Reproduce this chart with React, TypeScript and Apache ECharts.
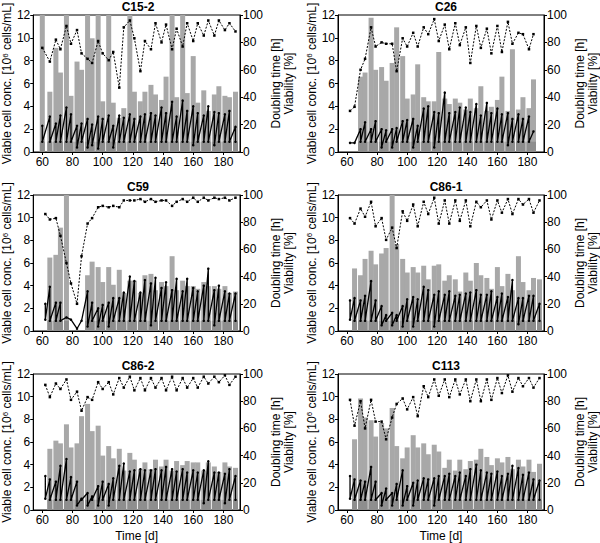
import React, { useEffect, useRef } from "react";
import * as echarts from "echarts";

// Passage days (time, d)
const DAYS = [62, 65, 69, 72, 76, 79, 83, 86, 90, 93, 97, 100, 104, 107, 111, 114, 118, 121, 125, 128, 132, 135, 139, 142, 146, 149, 153, 156, 160, 163, 167, 170, 174, 177, 181, 184, 188];
const DAYS_C15_2 = [60, 65, 69, 72, 76, 79, 83, 86, 90, 93, 97, 100, 104, 107, 111, 114, 118, 121, 125, 128, 132, 135, 139, 142, 146, 149, 153, 156, 160, 163, 167, 170, 174, 177, 181, 184, 188];

const X_TICKS = [60, 80, 100, 120, 140, 160, 180];
const LEFT_TICKS = [0, 2, 4, 6, 8, 10, 12];
const RIGHT_TICKS = [0, 20, 40, 60, 80, 100];

// Seeding density band level (10^6 cells/mL)
const SEED_LEVEL = 0.9;

// ---- C15-2 ----
const C15_2_PEAK = [2.3, 3.1, 2.5, 3.2, 3.9, 3.3, 2.3, 2.5, 2.9, 2.4, 3.1, 2.9, 3.2, 2.3, 3.2, 3.0, 3.3, 2.9, 3.1, 3.3, 3.4, 3.2, 3.9, 3.4, 4.4, 3.1, 4.5, 3.6, 4.0, 3.4, 3.2, 4.0, 3.5, 3.4, 3.3, 3.6, 2.2];
const C15_2_SPLIT = [0.9, 0.9, 0.9, 0.9, 0.9, 0.9, 0.4, 0.9, 0.4, 0.6, 0.3, 0.9, 0.9, 0.4, 0.9, 0.9, 0.9, 0.9, 0.9, 0.9, 0.9, 0.9, 0.9, 0.9, 0.9, 0.9, 0.9, 0.9, 0.6, 0.9, 0.9, 0.9, 0.6, 0.9, 0.9, 0.9, 0.9];
const C15_2_DT = [120, 44, 76, 58, 120, 41, 66, 60, 120, 83, 120, 37, 120, 36, 25, 32, 120, 44, 37, 44, 49, 42, 38, 55, 120, 40, 120, 43, 70, 36, 45, 30, 42, 48, 41, 40, 44];
const C15_2_VIA = [76, 66, 82, 75, 92, 79, 89, 72, 68, 65, 81, 72, 67, 73, 47, 91, 96, 83, 59, 81, 75, 94, 80, 93, 75, 90, 77, 94, 81, 94, 85, 96, 85, 96, 89, 94, 88];

// ---- C26 ----
const C26_PEAK = [0.8, 0.8, 2.0, 2.6, 2.0, 2.7, 2.0, 1.9, 2.0, 2.1, 2.7, 2.8, 2.9, 2.3, 3.8, 4.0, 3.5, 3.4, 5.2, 3.4, 3.5, 3.9, 3.9, 3.5, 4.2, 3.2, 4.3, 3.4, 3.8, 3.3, 3.4, 2.9, 3.3, 2.9, 3.1, 1.8, null];
const C26_SPLIT = [0.8, 0.8, 0.9, 0.9, 0.9, 0.9, 0.4, 0.9, 0.4, 0.9, 0.9, 0.9, 0.4, 0.9, 0.9, 0.9, 0.4, 0.9, 0.9, 0.9, 0.9, 0.9, 0.9, 0.9, 0.9, 0.9, 0.9, 0.9, 0.9, 0.9, 0.6, 0.9, 0.9, 0.9, 0.9, null, null];
const C26_DT = [null, null, 55, 58, 98, 60, 62, 52, 65, 91, 70, 39, 42, 64, 40, 37, 37, 73, 39, 35, 39, 36, 31, 39, 32, 48, 30, 33, 38, 55, 30, 75, 31, 40, 32, 53, null];
const C26_VIA = [30, 33, 60, 68, 91, 77, 80, 79, 79, 59, 83, 77, 87, 77, 91, 86, 97, 81, 93, 75, 94, 78, 91, 65, 92, 76, 90, 72, 92, 73, 95, 79, 87, 86, 75, 86, null];

// ---- C59 ----
const C59_PEAK = [2.4, 3.9, 2.5, 2.5, 1.2, 1.0, 0.2, 0.9, 3.5, 2.5, 2.0, 2.3, 2.5, 2.9, 2.9, 3.4, 4.8, 4.4, 3.4, 4.5, 4.2, 4.7, 3.8, 4.3, 3.6, 4.6, 3.5, 4.6, 3.8, 3.5, 4.0, 5.5, 3.6, 4.0, 3.5, 3.3, 3.3];
const C59_SPLIT = [1.0, 0.9, 0.9, 0.9, 1.2, 1.0, 0.2, 0.9, 0.4, 0.9, 0.4, 0.9, 0.4, 0.9, 0.9, 0.9, 0.9, 0.9, 0.9, 0.9, 0.5, 0.9, 0.9, 0.9, 0.9, 0.9, 0.9, 0.9, 0.9, 0.9, 0.9, 0.9, 0.5, 0.9, 0.9, 0.9, 0.9];
const C59_DT = [null, 54, 56, 76, 120, null, null, null, 41, 51, 47, 36, 47, 34, 45, 28, 37, 37, 28, 41, 42, 30, 36, 33, 55, 30, 37, 33, 33, 31, 36, 33, 33, 31, 33, 28, 29];
const C59_VIA = [86, 82, 83, 70, 50, 35, 20, 55, 79, 83, 91, 92, 91, 92, 91, 96, 96, 96, 97, 95, 97, 95, 96, 96, 92, 95, 97, 95, 98, 95, 98, 96, 98, 97, 98, 96, 98];

// ---- C86-1 ----
const C86_1_PEAK = [2.7, 2.9, 2.7, 3.1, 4.4, 2.7, 2.2, 1.4, 1.6, 1.4, 2.2, 2.8, 3.0, 2.8, 3.9, 3.6, 3.2, 3.5, 3.2, 3.5, 3.1, 3.2, 3.3, 3.4, 3.6, 3.2, 3.2, 3.5, 3.0, 3.3, 3.0, 4.5, 2.9, 2.9, 3.1, 3.1, 2.4];
const C86_1_SPLIT = [1.0, 0.9, 0.9, 0.9, 0.9, 0.9, 0.5, 0.9, 0.5, 0.9, 0.4, 0.9, 0.4, 0.9, 0.9, 0.9, 0.4, 0.9, 0.9, 0.9, 0.9, 0.9, 0.9, 0.9, 0.9, 0.9, 0.9, 0.9, 0.9, 0.9, 0.9, 0.9, 0.6, 0.9, 0.9, 0.9, 0.9];
const C86_1_DT = [null, 46, 41, 53, 59, 49, 57, 61, 120, 64, 53, 43, 47, 43, 48, 38, 48, 49, 37, 41, 38, 29, 43, 37, 50, 41, 39, 31, 47, 33, 42, 30, 55, 36, 30, 39, 38];
const C86_1_VIA = [83, 79, 90, 84, 95, 77, 83, 67, 76, 61, 88, 81, 93, 77, 95, 86, 98, 79, 96, 79, 96, 81, 96, 77, 95, 91, 96, 82, 96, 87, 97, 86, 97, 93, 97, 87, 96];

// ---- C86-2 ----
const C86_2_PEAK = [3.0, 2.7, 2.5, 3.9, 4.5, 2.9, 2.5, 1.0, 1.5, 1.2, 2.1, 2.5, 2.3, 2.8, 3.9, 4.1, 3.4, 3.5, 3.6, 3.5, 3.5, 3.6, 3.5, 3.8, 3.6, 3.4, 3.6, 3.3, 3.5, 3.3, 3.5, 4.3, 3.3, 3.3, 3.2, 3.6, 3.0];
const C86_2_SPLIT = [1.0, 0.9, 0.9, 0.9, 0.9, 0.9, 0.4, 0.9, 0.4, 0.9, 0.4, 0.9, 0.4, 0.9, 0.9, 0.9, 0.9, 0.9, 0.9, 0.9, 0.9, 0.9, 0.9, 0.9, 0.9, 0.9, 0.9, 0.9, 0.9, 0.9, 0.6, 0.9, 0.9, 0.9, 0.6, 0.9, 0.9];
const C86_2_DT = [null, 45, 51, 49, 63, 46, 49, 69, 78, 58, 62, 40, 47, 38, 45, 29, 42, 37, 30, 35, 30, 37, 32, 37, 29, 36, 33, 36, 35, 35, 29, 35, 32, 28, 35, 32, 31];
const C86_2_VIA = [92, 83, 93, 89, 96, 81, 87, 73, 83, 81, 94, 89, 94, 85, 97, 90, 98, 88, 97, 88, 97, 90, 97, 88, 98, 88, 97, 90, 97, 90, 98, 93, 98, 94, 99, 92, 98];

// ---- C113 ----
const C113_PEAK = [3.0, 2.7, 2.6, 2.5, 3.8, 2.5, 1.5, 1.9, 1.5, 2.3, 3.5, 2.1, 2.4, 2.6, 2.8, 2.7, 2.8, 3.0, 3.0, 3.2, 3.0, 3.3, 3.0, 3.6, 4.0, 3.5, 3.3, 3.2, 3.4, 3.0, 3.2, 3.9, 3.7, 3.1, 3.3, 2.7, 2.6];
const C113_SPLIT = [1.0, 0.9, 0.9, 0.9, 0.9, 0.9, 0.4, 0.9, 0.4, 0.9, 0.4, 0.9, 0.4, 0.9, 0.9, 0.9, 0.4, 0.9, 0.9, 0.9, 0.9, 0.9, 0.9, 0.9, 0.9, 0.9, 0.9, 0.9, 0.9, 0.9, 0.9, 0.9, 0.9, 0.9, 0.9, 0.9, 0.9];
const C113_DT = [null, 52, 82, 68, 66, 54, 64, 60, 75, 47, 38, 46, 55, 46, 49, 41, 48, 43, 31, 37, 29, 37, 30, 36, 37, 45, 39, 33, 38, 35, 39, 30, 37, 32, 37, 28, 34];
const C113_VIA = [81, 62, 80, 60, 81, 65, 65, 52, 68, 78, 82, 74, 83, 69, 91, 83, 96, 84, 96, 83, 96, 85, 96, 80, 96, 80, 96, 81, 97, 86, 99, 87, 97, 91, 97, 90, 97];

const PANELS = [
  { name: "C15-2", days: DAYS_C15_2, peak: C15_2_PEAK, split: C15_2_SPLIT, dt: C15_2_DT, via: C15_2_VIA },
  { name: "C26", days: DAYS, peak: C26_PEAK, split: C26_SPLIT, dt: C26_DT, via: C26_VIA },
  { name: "C59", days: DAYS, peak: C59_PEAK, split: C59_SPLIT, dt: C59_DT, via: C59_VIA },
  { name: "C86-1", days: DAYS, peak: C86_1_PEAK, split: C86_1_SPLIT, dt: C86_1_DT, via: C86_1_VIA },
  { name: "C86-2", days: DAYS, peak: C86_2_PEAK, split: C86_2_SPLIT, dt: C86_2_DT, via: C86_2_VIA },
  { name: "C113", days: DAYS, peak: C113_PEAK, split: C113_SPLIT, dt: C113_DT, via: C113_VIA },
];

const FONT = "'Liberation Sans', Arial, sans-serif";
const COLS = [
  { left: 33, width: 207, titleX: 138 },
  { left: 338, width: 210, titleX: 446 },
];
const ROWS = [
  { top: 15, height: 137, titleY: 7 },
  { top: 195, height: 136, titleY: 187 },
  { top: 374, height: 136, titleY: 366 },
];

function buildOption() {
  const grid: any[] = [];
  const xAxis: any[] = [];
  const yAxis: any[] = [];
  const series: any[] = [];
  const graphic: any[] = [];

  PANELS.forEach((p, i) => {
    const col = COLS[i % 2];
    const row = ROWS[Math.floor(i / 2)];
    const isBottom = Math.floor(i / 2) === 2;
    grid.push({
      left: col.left,
      top: row.top,
      width: col.width,
      height: row.height,
      show: true,
      borderColor: "#000",
      borderWidth: 1,
      backgroundColor: "transparent",
    });
    graphic.push({
      type: "text",
      x: col.titleX,
      y: row.titleY,
      silent: true,
      style: {
        text: p.name,
        textAlign: "center",
        textVerticalAlign: "middle",
        fontSize: 12,
        fontWeight: "bold",
        fill: "#000",
        fontFamily: FONT,
      },
    });
    xAxis.push({
      type: "value",
      gridIndex: i,
      min: 54,
      max: 191,
      splitNumber: X_TICKS.length,
      axisLine: { show: true, onZero: false, lineStyle: { color: "#000", width: 1 } },
      axisTick: { show: true, length: 3, lineStyle: { color: "#000" } },
      axisLabel: {
        color: "#000",
        fontSize: 12,
        fontFamily: FONT,
        margin: 4,
        showMinLabel: false,
        showMaxLabel: false,
        formatter: (v: number) => (X_TICKS.includes(v) ? String(v) : ""),
      },
      splitLine: { show: false },
      name: isBottom ? "Time [d]" : "",
      nameLocation: "middle",
      nameGap: 20,
      nameTextStyle: { color: "#000", fontSize: 12, fontFamily: FONT },
    });
    yAxis.push({
      type: "value",
      gridIndex: i,
      position: "left",
      min: LEFT_TICKS[0],
      max: LEFT_TICKS[LEFT_TICKS.length - 1],
      interval: LEFT_TICKS[1] - LEFT_TICKS[0],
      axisLine: { show: true, onZero: false, lineStyle: { color: "#000", width: 1 } },
      axisTick: { show: true, length: 3, lineStyle: { color: "#000" } },
      axisLabel: { color: "#000", fontSize: 12, fontFamily: FONT, margin: 3 },
      splitLine: { show: false },
      name: "Viable cell conc. [10{sup|6} cells/mL]",
      nameLocation: "middle",
      nameGap: 17,
      nameTextStyle: {
        color: "#000",
        fontSize: 12,
        fontFamily: FONT,
        rich: { sup: { fontSize: 8, fontFamily: FONT, color: "#000", verticalAlign: "top", lineHeight: 10 } },
      },
    });
    yAxis.push({
      type: "value",
      gridIndex: i,
      position: "right",
      min: RIGHT_TICKS[0],
      max: RIGHT_TICKS[RIGHT_TICKS.length - 1],
      interval: RIGHT_TICKS[1] - RIGHT_TICKS[0],
      axisLine: { show: true, onZero: false, lineStyle: { color: "#000", width: 1 } },
      axisTick: { show: true, length: 3, lineStyle: { color: "#000" } },
      axisLabel: { color: "#000", fontSize: 12, fontFamily: FONT, margin: 3 },
      splitLine: { show: false },
      name: "Doubling time [h]\nViability [%]",
      nameLocation: "middle",
      nameGap: 29,
      nameTextStyle: { color: "#000", fontSize: 12, fontFamily: FONT, lineHeight: 13 },
    });

    const dtData: any[] = [];
    const bandData: any[] = [];
    p.days.forEach((t, k) => {
      if (p.dt[k] != null) {
        dtData.push([t, p.dt[k]]);
        bandData.push([t, SEED_LEVEL]);
      }
    });
    const vcData: any[] = [];
    p.days.forEach((t, k) => {
      const pk = p.peak[k];
      if (pk == null) return;
      vcData.push([t, pk]);
      const sp = p.split[k];
      if (sp != null && sp !== pk) vcData.push([t, sp]);
    });
    const viaData: any[] = [];
    p.days.forEach((t, k) => {
      if (p.via[k] != null) viaData.push([t, p.via[k]]);
    });

    series.push({
      type: "bar",
      name: "Doubling time",
      xAxisIndex: i,
      yAxisIndex: 2 * i + 1,
      data: dtData,
      barWidth: 5,
      barGap: "-100%",
      clip: true,
      itemStyle: { color: "#a8a8a8" },
      silent: true,
    });
    series.push({
      type: "bar",
      name: "Seed",
      xAxisIndex: i,
      yAxisIndex: 2 * i,
      data: bandData,
      barWidth: 5,
      barGap: "-100%",
      clip: true,
      itemStyle: { color: "#8e8e8e" },
      silent: true,
    });
    series.push({
      type: "line",
      name: "Viable cell conc.",
      xAxisIndex: i,
      yAxisIndex: 2 * i,
      data: vcData,
      symbol: "circle",
      symbolSize: 2.5,
      itemStyle: { color: "#000" },
      lineStyle: { color: "#000", width: 1.3 },
      silent: true,
    });
    series.push({
      type: "line",
      name: "Viability",
      xAxisIndex: i,
      yAxisIndex: 2 * i + 1,
      data: viaData,
      symbol: "rect",
      symbolSize: 2.5,
      itemStyle: { color: "#000" },
      lineStyle: { color: "#000", width: 1, type: [2, 1.5] },
      silent: true,
    });
  });

  return {
    animation: false,
    backgroundColor: "#fff",
    textStyle: { fontFamily: FONT },
    graphic,
    grid,
    xAxis,
    yAxis,
    series,
  };
}

export default function App() {
  const ref = useRef<HTMLDivElement | null>(null);
  useEffect(() => {
    if (!ref.current) return;
    const chart = echarts.init(ref.current, undefined, { renderer: "svg" });
    chart.setOption(buildOption() as any);
    return () => chart.dispose();
  }, []);
  return (
    <div
      ref={ref}
      style={{ position: "absolute", left: 0, top: 0, width: 600, height: 543, background: "#fff" }}
    />
  );
}
